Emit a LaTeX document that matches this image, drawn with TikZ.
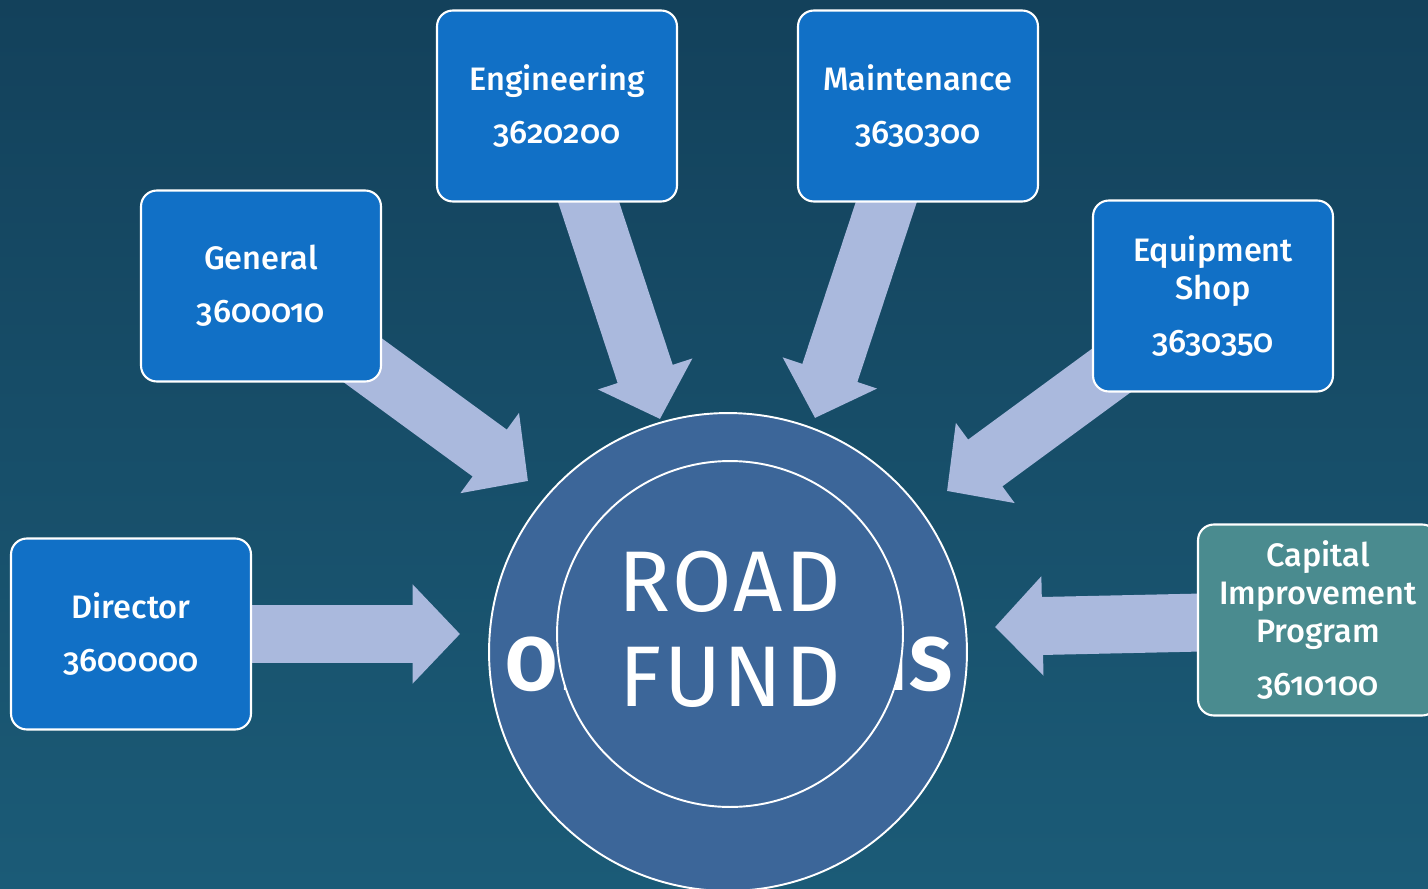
\documentclass[tikz,border=0pt]{standalone}
\usepackage{fontspec}
\setmainfont{Fira Sans}
\newfontfamily\unitfont{Fira Sans Medium}[Numbers=OldStyle]
\usetikzlibrary{arrows.meta}
\definecolor{bgtop}{HTML}{13415B}
\definecolor{bgbot}{HTML}{1B5B77}
\definecolor{unitblue}{HTML}{1170C6}
\definecolor{unitteal}{HTML}{4A8B8F}
\definecolor{flow}{HTML}{AAB9DD}
\definecolor{hubblue}{HTML}{3C6699}
\pgfdeclarelayer{back}
\pgfdeclarelayer{flows}
\pgfsetlayers{back,flows,main}
\tikzset{
  unit/.style={draw=white, line width=1.2pt, fill=unitblue, rounded corners=9pt,
    minimum width=4.8cm, minimum height=3.82cm, text=white, align=center,
    font=\unitfont\fontsize{18.5}{21.5}\selectfont},
  ring/.style={circle, draw=white, line width=1.1pt, fill=hubblue, text=white},
  flowarrow/.style={draw=flow, line width=33pt, -{Triangle[length=27pt,width=55pt]}},
}

\begin{document}
\begin{tikzpicture}[x=0.02cm,y=-0.02cm]
\begin{pgfonlayer}{back}
\shade[top color=bgtop, bottom color=bgbot] (0,0) rectangle (1428,889);
\end{pgfonlayer}
\useasboundingbox (0,0) rectangle (1428,889);
\node[unit] (dir) at (131,634) {Director\\[8.5pt]3600000};
\node[unit] (gen) at (261,286) {General\\[8.5pt]3600010};
\node[unit] (eng) at (557,106) {Engineering\\[8.5pt]3620200};
\node[unit] (mnt) at (918,106) {Maintenance\\[8.5pt]3630300};
\node[unit] (shop) at (1213,296) {Equipment\\Shop\\[8.5pt]3630350};
\node[unit, fill=unitteal] (cip) at (1318,620) {Capital\\Improvement\\Program\\[8.5pt]3610100};
\node[ring, minimum size=9.56cm] (fund) at (728,652) {};
\node[text=white, font=\bfseries\fontsize{43}{50}\selectfont\addfontfeature{LetterSpace=2}] (ops) at (729,664) {OPERATIONS};
\node[ring, minimum size=6.92cm] (hub) at (730,634) {};
\node[text=white, align=center, font=\fontsize{49}{54}\selectfont\addfontfeature{LetterSpace=3}] (name) at (730,629) {ROAD\\FUND};
\coordinate (dirtip) at (460,634);
\coordinate (gentip) at (528,481);
\coordinate (engtip) at (660,419);
\coordinate (mnttip) at (815,418);
\coordinate (shoptip) at (947,491);
\coordinate (ciptip) at (995,627);
\begin{pgfonlayer}{flows}
\draw[flowarrow] (dir.center) -- (dirtip);
\draw[flowarrow] (gen.center) -- (gentip);
\draw[flowarrow] (eng.center) -- (engtip);
\draw[flowarrow] (mnt.center) -- (mnttip);
\draw[flowarrow] (shop.center) -- (shoptip);
\draw[flowarrow] (cip.center) -- (ciptip);
\end{pgfonlayer}
\end{tikzpicture}
\end{document}
